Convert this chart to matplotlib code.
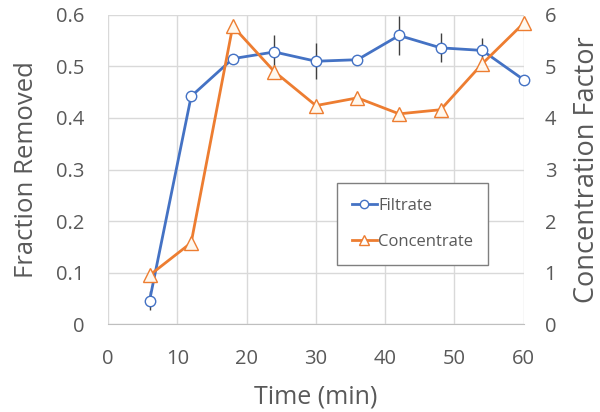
import matplotlib.pyplot as plt
from matplotlib.lines import Line2D

# data
time_min = [6, 12, 18, 24, 30, 36, 42, 48, 54, 60]
filtrate = [0.046, 0.442, 0.515, 0.528, 0.510, 0.513, 0.560, 0.536, 0.531, 0.474]
filtrate_err = [0.018, 0.010, 0.008, 0.032, 0.035, 0.006, 0.037, 0.028, 0.025, 0.006]
concentrate = [0.95, 1.58, 5.78, 4.90, 4.24, 4.39, 4.08, 4.16, 5.05, 5.84]
concentrate_err = [0.05, 0.08, 0.05, 0.05, 0.05, 0.12, 0.05, 0.05, 0.05, 0.05]

blue = '#4472C4'
orange = '#ED7D31'
txt = '#595959'
plt.rcParams['font.family'] = ['Open Sans', 'DejaVu Sans']

fig = plt.figure(figsize=(6, 4.12), dpi=100)
ax = fig.add_axes([0.18, 0.213, 0.693, 0.751])
ax2 = ax.twinx()

ax.errorbar(time_min, filtrate, yerr=filtrate_err, color=blue, lw=2,
            marker='o', ms=7.5, mfc='white', mec=blue, mew=1,
            ecolor='#404040', elinewidth=1, capsize=0, zorder=3, clip_on=False)
ax2.errorbar(time_min, concentrate, yerr=concentrate_err, color=orange, lw=2,
             marker='^', ms=10, mfc='#FFF8EE', mec=orange, mew=1,
             ecolor='#404040', elinewidth=1, capsize=0, zorder=3, clip_on=False)

ax.set_xlim(0, 60)
ax.set_ylim(0, 0.6)
ax2.set_ylim(0, 6)
ax.set_xticks(range(0, 61, 10))
ax.set_yticks([0, 0.1, 0.2, 0.3, 0.4, 0.5, 0.6])
ax.set_yticklabels(['0', '0.1', '0.2', '0.3', '0.4', '0.5', '0.6'])
ax2.set_yticks(range(0, 7))

ax.grid(True, color='#D9D9D9', lw=1)
ax.set_axisbelow(True)
for a in (ax, ax2):
    for s in a.spines.values():
        s.set_visible(False)
    a.tick_params(length=0, labelsize=14.5, colors=txt)
ax.tick_params(axis='y', pad=17)
ax.tick_params(axis='x', pad=18)
ax2.tick_params(axis='y', pad=15)
ax.spines['bottom'].set_visible(True)
ax.spines['bottom'].set_color('#BFBFBF')

ax.set_xlabel('Time (min)', fontsize=18, color=txt, labelpad=11)
ax.set_ylabel('Fraction Removed', fontsize=18.5, color=txt, labelpad=12)
ax2.set_ylabel('Concentration Factor', fontsize=19.5, color=txt, labelpad=12)

handles = [Line2D([], [], color=blue, lw=2, marker='o', ms=6, mfc='white', mec=blue),
           Line2D([], [], color=orange, lw=2, marker='^', ms=7, mfc='white', mec=orange)]
leg = ax2.legend(handles, ['Filtrate', 'Concentrate'], loc='center',
                 bbox_to_anchor=(0.54, 0.19, 0.385, 0.267), fontsize=12,
                 handlelength=1.5, handletextpad=0.1, labelspacing=1.2,
                 fancybox=False, edgecolor='#7F7F7F', framealpha=1,
                 labelcolor=txt, borderpad=0.9, borderaxespad=0)
leg.get_frame().set_linewidth(1)

fig.savefig('out.png', dpi=100)
